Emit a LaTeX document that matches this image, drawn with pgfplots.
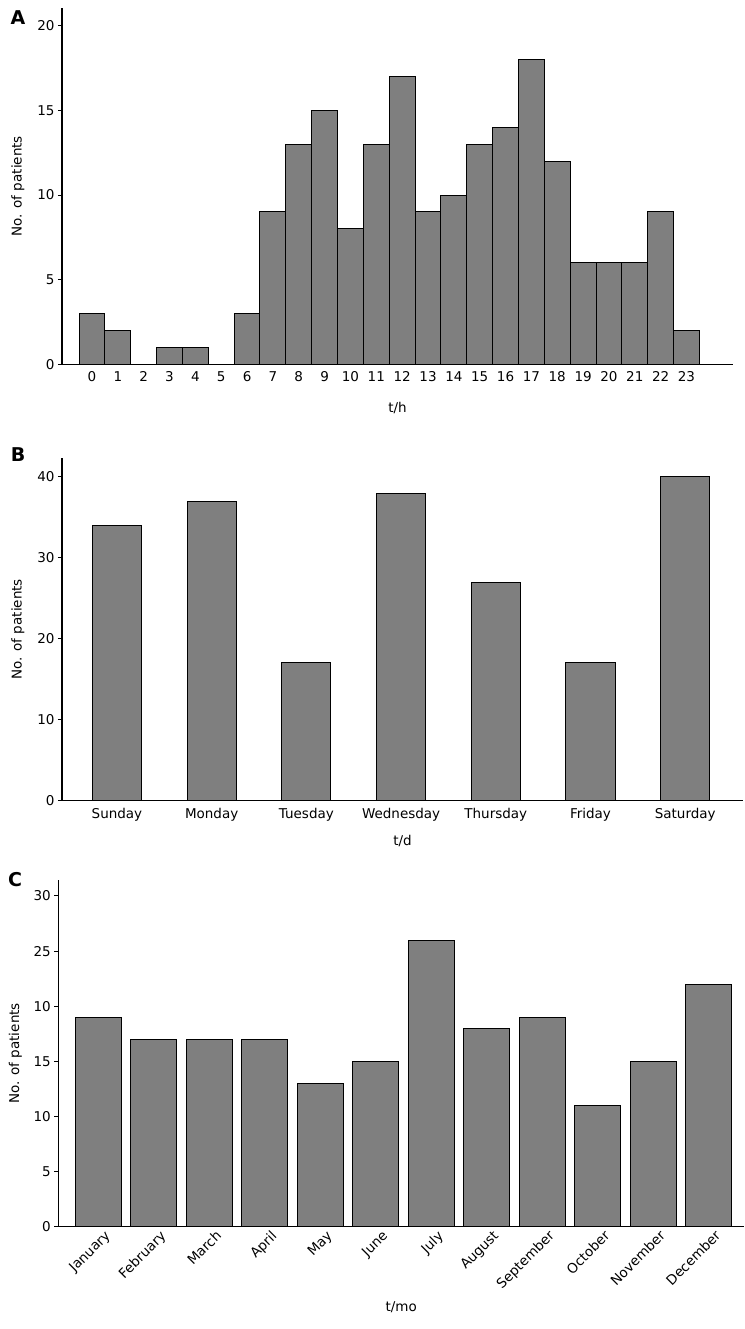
\documentclass[border=0pt]{standalone}
\usepackage{pgfplots}
\pgfplotsset{compat=1.18}
\usepackage{fontspec}
\setmainfont{DejaVu Sans}
\definecolor{barg}{RGB}{127,127,127}
\pgfplotsset{
  panel/.style={
    scale only axis,
    anchor=south west,
    axis lines*=left,
    axis line style={line width=1.2pt},
    ymin=0,
    ybar,
    tick align=outside,
    ytick style={black, line width=1pt},
    major tick length=4pt,
    xtick style={draw=none},
    /pgf/number format/assume math mode=true,
    ylabel={No. of patients},
    tick label style={font=\fontsize{13.5}{16}\selectfont},
  },
  bars/.style={fill=barg, draw=black, line width=1pt}
}
\begin{document}
\begin{tikzpicture}
\useasboundingbox (0,0) rectangle (744pt,-1329pt);
% Panel A
\begin{axis}[panel, at={(62pt,-364.3pt)}, width=671pt, height=356pt,
  xmin=-1.16, xmax=24.8, ymax=21.03, bar width=1,
  xtick={0,...,23}, ytick={0,5,...,20},
  xlabel={t/h},
  every axis y label/.style={at={(axis description cs:-0.0656,0.5)}, rotate=90, anchor=center, font=\fontsize{13.5}{16}\selectfont},
  every axis x label/.style={at={(axis description cs:0.5,-0.1228)}, anchor=center, font=\fontsize{13.5}{16}\selectfont}]
\addplot[bars] coordinates {(0,3) (1,2) (2,0) (3,1) (4,1) (5,0) (6,3) (7,9) (8,13) (9,15) (10,8) (11,13) (12,17) (13,9) (14,10) (15,13) (16,14) (17,18) (18,12) (19,6) (20,6) (21,6) (22,9) (23,2)};
\end{axis}
% Panel B
\begin{axis}[panel, at={(62pt,-800.3pt)}, width=681pt, height=342pt,
  xmin=-0.58, xmax=6.61, ymax=42.3, bar width=0.52,
  xtick={0,...,6}, xticklabels={Sunday,Monday,Tuesday,Wednesday,Thursday,Friday,Saturday},
  ytick={0,10,...,40},
  xlabel={t/d},
  every axis y label/.style={at={(axis description cs:-0.0646,0.5)}, rotate=90, anchor=center, font=\fontsize{13.5}{16}\selectfont},
  every axis x label/.style={at={(axis description cs:0.5,-0.119)}, anchor=center, font=\fontsize{13.5}{16}\selectfont}]
\addplot[bars] coordinates {(0,34) (1,37) (2,17) (3,38) (4,27) (5,17) (6,40)};
\end{axis}
% Panel C
\begin{axis}[panel, at={(58.3pt,-1226.7pt)}, width=685.7pt, height=346.7pt,
  xmin=-0.72, xmax=11.64, ymax=31.45, bar width=0.83,
  xtick={0,...,11}, xticklabels={January,February,March,April,May,June,July,August,September,October,November,December},
  xticklabel style={rotate=45, anchor=north east, inner sep=1pt, xshift=6pt, yshift=-2pt},
  ytick={0,5,...,30}, yticklabels={0,5,10,15,10,25,30},
  xlabel={t/mo},
  every axis y label/.style={at={(axis description cs:-0.0627,0.5)}, rotate=90, anchor=center, font=\fontsize{13.5}{16}\selectfont},
  every axis x label/.style={at={(axis description cs:0.5,-0.2316)}, anchor=center, font=\fontsize{13.5}{16}\selectfont}]
\addplot[bars] coordinates {(0,19) (1,17) (2,17) (3,17) (4,13) (5,15) (6,26) (7,18) (8,19) (9,11) (10,15) (11,22)};
\end{axis}
\node[font=\bfseries\fontsize{19}{20}\selectfont] at (18pt,-18pt) {A};
\node[font=\bfseries\fontsize{19}{20}\selectfont] at (18pt,-455pt) {B};
\node[font=\bfseries\fontsize{19}{20}\selectfont] at (15pt,-880pt) {C};
\end{tikzpicture}
\end{document}
